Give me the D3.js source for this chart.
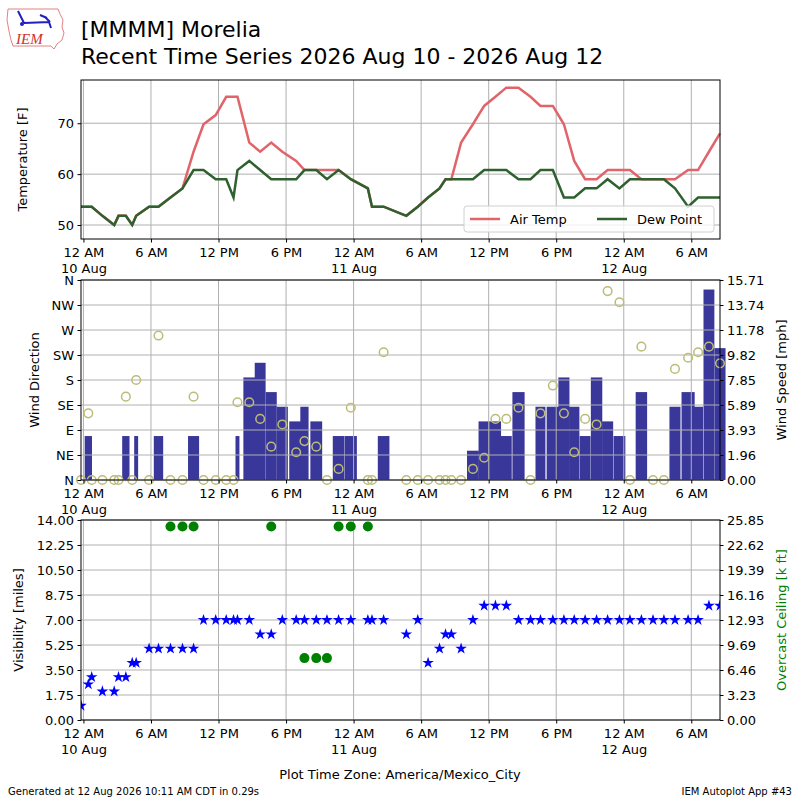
<!DOCTYPE html>
<html>
<head>
<meta charset="utf-8">
<script src="https://cdn.jsdelivr.net/npm/d3@7"></script>
<style>
  body { margin: 0; background: #fff; }
  text { font-family: "DejaVu Sans", sans-serif; }
</style>
</head>
<body>
<svg id="chart" width="800" height="800"></svg>
<script>
// observation times (local, America/Mexico_City)
const obsTimes = [
  "2026-08-09 23:47", "2026-08-10 00:26", "2026-08-10 00:44", "2026-08-10 01:41", "2026-08-10 02:44",
  "2026-08-10 03:07", "2026-08-10 03:46", "2026-08-10 04:20", "2026-08-10 04:41", "2026-08-10 05:50",
  "2026-08-10 06:40", "2026-08-10 07:44", "2026-08-10 08:48", "2026-08-10 09:47", "2026-08-10 10:40",
  "2026-08-10 11:45", "2026-08-10 12:41", "2026-08-10 13:20", "2026-08-10 13:41", "2026-08-10 14:44",
  "2026-08-10 15:42", "2026-08-10 16:41", "2026-08-10 17:40", "2026-08-10 18:54", "2026-08-10 19:38",
  "2026-08-10 20:41", "2026-08-10 21:38", "2026-08-10 22:40", "2026-08-10 23:45", "2026-08-11 01:16",
  "2026-08-11 01:38", "2026-08-11 02:40", "2026-08-11 04:41", "2026-08-11 05:42", "2026-08-11 06:37",
  "2026-08-11 07:38", "2026-08-11 08:10", "2026-08-11 08:41", "2026-08-11 09:33", "2026-08-11 10:36",
  "2026-08-11 11:36", "2026-08-11 12:36", "2026-08-11 13:34", "2026-08-11 14:39", "2026-08-11 15:43",
  "2026-08-11 16:36", "2026-08-11 17:42", "2026-08-11 18:41", "2026-08-11 19:36", "2026-08-11 20:34",
  "2026-08-11 21:35", "2026-08-11 22:34", "2026-08-11 23:37", "2026-08-12 00:33", "2026-08-12 01:34",
  "2026-08-12 02:36", "2026-08-12 03:34", "2026-08-12 04:33", "2026-08-12 05:43", "2026-08-12 06:36",
  "2026-08-12 07:34", "2026-08-12 08:33"
];

const airTemp = [
  53.6, 53.6, 53.6, 51.8, 50, 51.8, 51.8, 50, 51.8, 53.6, 53.6, 55.4, 57.2,
  64.4, 69.8, 71.6, 75.2, 75.2, 75.2, 66.2, 64.4, 66.2, 64.4, 62.6, 60.8, 60.8, 60.8, 60.8, 59,
  57.2, 53.6, 53.6, 51.8, 53.6, 55.4, 57.2, 59, 59,
  66.2, 69.8, 73.4, 75.2, 77, 77, 75.2, 73.4, 73.4, 69.8, 62.6, 59, 59, 60.8, 60.8, 60.8,
  59, 59, 59, 59, 60.8, 60.8, 64.4, 68
];

const dewPoint = [
  53.6, 53.6, 53.6, 51.8, 50, 51.8, 51.8, 50, 51.8, 53.6, 53.6, 55.4, 57.2,
  60.8, 60.8, 59, 59, 55.4, 60.8, 62.6, 60.8, 59, 59, 59, 60.8, 60.8, 59, 60.8, 59,
  57.2, 53.6, 53.6, 51.8, 53.6, 55.4, 57.2, 59, 59,
  59, 59, 60.8, 60.8, 60.8, 59, 59, 60.8, 60.8, 55.4, 55.4, 57.2, 57.2, 59, 57.2, 59,
  59, 59, 59, 57.2, 53.6, 55.4, 55.4, 55.4
];

const windDir = [
  0, 120, 0, 0, 0, 0, 150, 0, 180, 0, 260, 0, 0,
  150, 0, 0, 0, 0, 140, 140, 110, 60, 100, 50, 70, 60, 0, 20, 130,
  0, 0, 230, 0, 0, 0, 0, 0, 0,
  0, 20, 40, 110, 110, 130, 0, 120, 170, 120, 50, 110, 100, 340, 320, 0,
  240, 0, 0, 200, 220, 230, 240, 210
];

const windKnots = [
  0, 3, 0, 0, 0, 0, 3, 0, 3, 0, 3, 0, 0,
  3, 0, 0, 0, 0, 3, 7, 8, 6, 5, 4, 5, 4, 0, 3, 3,
  0, 0, 3, 0, 0, 0, 0, 0, 0,
  0, 2, 4, 4, 3, 6, 0, 5, 5, 7, 5, 3, 7, 4, 3, 0,
  6, 0, 0, 5, 6, 5, 13, 9
];

const visibility = [
  1, 2.5, 3, 2, 2, 3, 3, 4, 4, 5, 5, 5, 5, 5, 7, 7, 7, 7, 7, 7, 6, 6, 7, 7, 7, 7, 7, 7, 7, 7, 7, 7,
  6, 7, 4, 5, 6, 6, 5, 7, 8, 8, 8, 7, 7, 7, 7, 7, 7, 7, 7, 7, 7, 7, 7, 7, 7, 7, 7, 7, 8, 8
];

const ceilingTimes = [
  "2026-08-10 07:44", "2026-08-10 08:48", "2026-08-10 09:47", "2026-08-10 16:41", "2026-08-10 19:38",
  "2026-08-10 20:41", "2026-08-10 21:38", "2026-08-10 22:40", "2026-08-10 23:45", "2026-08-11 01:16"
];
const ceilingKft = [25, 25, 25, 25, 8, 8, 8, 25, 25, 25];

const tempTicks = [50, 60, 70];
const dirLabels = ["N", "NE", "E", "SE", "S", "SW", "W", "NW", "N"];
const visMax = 14;
const ceilMax = 25.85;

// ---------------------------------------------------------------
const svg = d3.select("#chart");
const parse = d3.timeParse("%Y-%m-%d %H:%M");
const obs = obsTimes.map((s, i) => ({
  t: parse(s), tmpf: airTemp[i], dwpf: dewPoint[i],
  drct: windDir[i], mph: windKnots[i] * 1.15078, vis: visibility[i]
}));
const ceil = ceilingTimes.map((s, i) => ({ t: parse(s), v: ceilingKft[i] }));

const left = 81, right = 720;
const x = d3.scaleTime().domain(d3.extent(obs, d => d.t)).range([left, right]);
const xTicks = d3.timeHour.every(6).range(d3.timeDay.floor(x.domain()[0]), x.domain()[1])
  .filter(d => d >= x.domain()[0]);
const grid = "#b0b0b0";
const fs = "13px";

function xLabel(d) {
  if (d.getHours() === 0) return ["12 AM", d3.timeFormat("%-d %b")(d)];
  return [d3.timeFormat("%-I %p")(d)];
}

function drawFrame(top, bottom, yTickPos) {
  const g = svg.append("g");
  g.selectAll(".hg").data(yTickPos).join("line")
    .attr("x1", left).attr("x2", right).attr("y1", d => d).attr("y2", d => d)
    .attr("stroke", grid).attr("stroke-width", 1);
  g.selectAll(".vg").data(xTicks).join("line")
    .attr("x1", d => x(d)).attr("x2", d => x(d)).attr("y1", top).attr("y2", bottom)
    .attr("stroke", grid).attr("stroke-width", 1);
  return g;
}

function drawXAxis(bottom) {
  const ax = svg.append("g").attr("transform", `translate(0,${bottom})`)
    .call(d3.axisBottom(x).tickValues(xTicks).tickSize(3.5).tickSizeOuter(0).tickFormat(""));
  ax.select(".domain").remove();
  ax.selectAll(".tick text").remove();
  ax.selectAll(".tick").append("text")
    .attr("fill", "#000").attr("text-anchor", "middle").style("font-size", fs)
    .attr("y", 6)
    .each(function (d) {
      const lines = xLabel(d);
      d3.select(this).selectAll("tspan").data(lines).join("tspan")
        .attr("x", 0).attr("dy", (l, i) => i === 0 ? "0.95em" : "1.2em").text(l => l);
    });
}

function spine(top, bottom) {
  svg.append("rect").attr("x", left).attr("y", top).attr("width", right - left).attr("height", bottom - top)
    .attr("fill", "none").attr("stroke", "#000").attr("stroke-width", 1);
}

function styleAxis(ax) {
  ax.select(".domain").remove();
  ax.selectAll("text").style("font-size", fs).attr("fill", "#000");
}

function yTitle(text, cx, cy, color) {
  svg.append("text").attr("transform", `translate(${cx},${cy}) rotate(-90)`)
    .attr("text-anchor", "middle").style("font-size", fs).attr("fill", color || "#000").text(text);
}

// ---------------- temperature panel ----------------
{
  const top = 80, bottom = 239;
  const y = d3.scaleLinear().domain([47.25, 78.5]).range([bottom, top]);
  drawFrame(top, bottom, tempTicks.map(y));
  const line = key => d3.line().x(d => x(d.t)).y(d => y(d[key]));
  svg.append("path").datum(obs).attr("d", line("tmpf"))
    .attr("fill", "none").attr("stroke", "#e0646a").attr("stroke-width", 2.5);
  svg.append("path").datum(obs).attr("d", line("dwpf"))
    .attr("fill", "none").attr("stroke", "#2f612f").attr("stroke-width", 2.5);
  styleAxis(svg.append("g").attr("transform", `translate(${left},0)`)
    .call(d3.axisLeft(y).tickValues(tempTicks).tickSize(3.5).tickPadding(3.5)));
  drawXAxis(bottom);
  spine(top, bottom);
  yTitle("Temperature [F]", 27, (top + bottom) / 2);

  const lg = svg.append("g").attr("transform", "translate(464,206)");
  lg.append("rect").attr("width", 250).attr("height", 26).attr("rx", 3)
    .attr("fill", "#fff").attr("fill-opacity", 0.8).attr("stroke", "#d0d0d0");
  const items = [["Air Temp", "#e0646a", 6], ["Dew Point", "#2f612f", 133]];
  items.forEach(([label, color, ox]) => {
    lg.append("line").attr("x1", ox).attr("x2", ox + 30).attr("y1", 13).attr("y2", 13)
      .attr("stroke", color).attr("stroke-width", 2.5);
    lg.append("text").attr("x", ox + 40).attr("y", 18).style("font-size", fs).text(label);
  });
}

// ---------------- wind panel ----------------
{
  const top = 280, bottom = 480;
  const yDir = d3.scaleLinear().domain([0, 360]).range([bottom, top]);
  const ySpd = d3.scaleLinear().domain([0, d3.max(obs, d => d.mph) * 1.05]).range([bottom, top]);
  const spdTicks = d3.range(9).map(i => ySpd.domain()[1] * i / 8);

  // bar width = time since previous observation, centred on the observation
  const bars = obs.map((d, i) => {
    const prev = i > 0 ? obs[i - 1].t : d.t;
    const w = d.t - prev;
    return { t0: new Date(+d.t - w / 2), t1: new Date(+d.t + w / 2), mph: d.mph };
  }).filter(d => d.mph > 0);
  svg.append("g").selectAll("rect").data(bars).join("rect")
    .attr("x", d => x(d.t0)).attr("width", d => x(d.t1) - x(d.t0))
    .attr("y", d => ySpd(d.mph)).attr("height", d => bottom - ySpd(d.mph))
    .attr("fill", "#393799");

  drawFrame(top, bottom, d3.range(0, 361, 45).map(yDir));

  svg.append("g").selectAll("circle").data(obs).join("circle")
    .attr("cx", d => x(d.t)).attr("cy", d => yDir(d.drct)).attr("r", 4.3)
    .attr("fill", "none").attr("stroke", "#bcbc78").attr("stroke-width", 1.5);

  styleAxis(svg.append("g").attr("transform", `translate(${left},0)`)
    .call(d3.axisLeft(yDir).tickValues(d3.range(0, 361, 45)).tickSize(3.5).tickPadding(3.5)
      .tickFormat((d, i) => dirLabels[i])));
  styleAxis(svg.append("g").attr("transform", `translate(${right},0)`)
    .call(d3.axisRight(ySpd).tickValues(spdTicks).tickSize(3.5).tickPadding(3.5).tickFormat(d3.format(".2f"))));
  drawXAxis(bottom);
  spine(top, bottom);
  yTitle("Wind Direction", 39, (top + bottom) / 2);
  yTitle("Wind Speed [mph]", 786, (top + bottom) / 2);
}

// ---------------- visibility / ceiling panel ----------------
{
  const top = 520, bottom = 720;
  const yVis = d3.scaleLinear().domain([0, visMax]).range([bottom, top]);
  const yCeil = d3.scaleLinear().domain([0, ceilMax]).range([bottom, top]);
  const visTicks = d3.range(9).map(i => visMax * i / 8);
  const ceilTicks = d3.range(9).map(i => ceilMax * i / 8);
  drawFrame(top, bottom, visTicks.map(yVis));

  svg.append("clipPath").attr("id", "visclip").append("rect")
    .attr("x", left).attr("y", top - 10).attr("width", right - left).attr("height", bottom - top + 20);
  const marks = svg.append("g").attr("clip-path", "url(#visclip)");
  marks.selectAll("path").data(obs).join("path")
    .attr("transform", d => `translate(${x(d.t)},${yVis(d.vis)})`)
    .attr("d", d3.symbol(d3.symbolStar, 42)).attr("fill", "#0000ff");
  marks.selectAll("circle").data(ceil).join("circle")
    .attr("cx", d => x(d.t)).attr("cy", d => yCeil(d.v)).attr("r", 5)
    .attr("fill", "#008000");

  styleAxis(svg.append("g").attr("transform", `translate(${left},0)`)
    .call(d3.axisLeft(yVis).tickValues(visTicks).tickSize(3.5).tickPadding(3.5).tickFormat(d3.format(".2f"))));
  styleAxis(svg.append("g").attr("transform", `translate(${right},0)`)
    .call(d3.axisRight(yCeil).tickValues(ceilTicks).tickSize(3.5).tickPadding(3.5).tickFormat(d3.format(".2f"))));
  drawXAxis(bottom);
  spine(top, bottom);
  yTitle("Visibility [miles]", 23, (top + bottom) / 2);
  yTitle("Overcast Ceiling [k ft]", 786, (top + bottom) / 2, "#008000");
}

// ---------------- titles, logo, footer ----------------
svg.append("text").attr("x", 81).attr("y", 37).style("font-size", "22px").text("[MMMM] Morelia");
svg.append("text").attr("x", 81).attr("y", 64).style("font-size", "22px")
  .text("Recent Time Series 2026 Aug 10 - 2026 Aug 12");
svg.append("text").attr("x", 400).attr("y", 779).attr("text-anchor", "middle").style("font-size", "13px")
  .text("Plot Time Zone: America/Mexico_City");
svg.append("text").attr("x", 8).attr("y", 795).style("font-size", "10px")
  .text("Generated at 12 Aug 2026 10:11 AM CDT in 0.29s");
svg.append("text").attr("x", 792).attr("y", 795).attr("text-anchor", "end").style("font-size", "10px")
  .text("IEM Autoplot App #43");

const logo = svg.append("g");
logo.append("path")
  .attr("d", "M8,9 L58,9 L60,14 L63,20 L62,27 L64,33 L62,40 L57,44 L54,49 L51,46 L13,46 L11,40 L9,31 L7,20 Z")
  .attr("fill", "none").attr("stroke", "#e06060").attr("stroke-width", 0.8);
logo.append("path")
  .attr("d", "M24,23 L50,22 M18,11 L24,23 M45,17 L50,22 M49,22 L51,28 M40,15 L47,18")
  .attr("fill", "none").attr("stroke", "#2020c0").attr("stroke-width", 2);
logo.append("circle").attr("cx", 22).attr("cy", 24).attr("r", 2).attr("fill", "#2020c0");
logo.append("text").attr("x", 16).attr("y", 44).style("font-family", "'Liberation Serif', serif")
  .style("font-style", "italic").style("font-size", "15px").attr("fill", "#d03030").text("IEM");
</script>
</body>
</html>
